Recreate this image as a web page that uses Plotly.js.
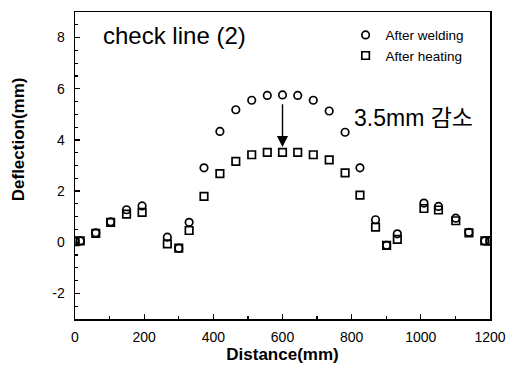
<!DOCTYPE html>
<html>
<head>
<meta charset="utf-8">
<script src="https://cdn.plot.ly/plotly-3.0.1.min.js"></script>
<style>html,body{margin:0;padding:0;background:#fff;}#chart{width:507px;height:366px;}</style>
</head>
<body>
<div id="chart"></div>
<script>
const distance = [0, 15, 60, 103, 149, 194, 267, 300, 330, 373, 419, 465, 511, 556, 600, 644, 689, 735, 781, 824, 869, 901, 932, 1009, 1051, 1101, 1139, 1185, 1200];
const afterWelding = [0.05, 0.05, 0.37, 0.8, 1.27, 1.42, 0.2, -0.23, 0.78, 2.91, 4.33, 5.18, 5.55, 5.74, 5.76, 5.74, 5.55, 5.13, 4.3, 2.91, 0.88, -0.12, 0.33, 1.53, 1.4, 0.94, 0.39, 0.05, 0.05];
const afterHeating = [0.02, 0.05, 0.35, 0.78, 1.1, 1.17, -0.06, -0.23, 0.46, 1.79, 2.68, 3.16, 3.42, 3.51, 3.51, 3.51, 3.42, 3.22, 2.71, 1.84, 0.59, -0.12, 0.11, 1.32, 1.26, 0.84, 0.37, 0.05, 0.05];
const xTicks = [0, 200, 400, 600, 800, 1000, 1200];
const yTicks = [-2, 0, 2, 4, 6, 8];

const font = "Liberation Sans, Arial, sans-serif";
const traces = [
  {x: distance, y: afterWelding, name: "After welding", type: "scatter", mode: "markers",
   marker: {symbol: "circle-open", size: 7.5, color: "#000", line: {width: 1.7, color: "#000"}}},
  {x: distance, y: afterHeating, name: "After heating", type: "scatter", mode: "markers",
   marker: {symbol: "square-open", size: 7.5, color: "#000", line: {width: 1.7, color: "#000"}}}
];
const layout = {
  width: 507, height: 366,
  margin: {l: 75, r: 17, t: 12, b: 47},
  paper_bgcolor: "#fff", plot_bgcolor: "#fff",
  font: {family: font, color: "#000", size: 13},
  showlegend: true,
  legend: {x: 0.652, y: 0.975, xanchor: "left", yanchor: "top", bgcolor: "rgba(0,0,0,0)",
           font: {size: 13.5, family: font}, tracegroupgap: 0, itemwidth: 30},
  xaxis: {range: [0, 1200], tickvals: xTicks, ticktext: xTicks.map(String),
          ticks: "inside", ticklen: 5, tickwidth: 1.3, tickcolor: "#000",
          minor: {dtick: 100, ticks: "inside", ticklen: 3, tickwidth: 1.2, tickcolor: "#000"},
          showline: true, linecolor: "#000", linewidth: 1.5, mirror: true,
          showgrid: false, zeroline: false, ticklabelstandoff: 5,
          tickfont: {size: 14, family: font},
          title: {text: "<b>Distance(mm)</b>", font: {size: 17, family: font}, standoff: 2}},
  yaxis: {range: [-3, 9], tickvals: yTicks, ticktext: yTicks.map(String),
          ticks: "inside", ticklen: 5, tickwidth: 1.3, tickcolor: "#000",
          minor: {dtick: 0.5, ticks: "inside", ticklen: 3, tickwidth: 1.2, tickcolor: "#000"},
          showline: true, linecolor: "#000", linewidth: 1.5, mirror: true,
          showgrid: false, zeroline: false, ticklabelstandoff: 6,
          tickfont: {size: 14, family: font}},
  annotations: [
    {xref: "paper", yref: "paper", x: -0.137, y: 0.586, text: "<b>Deflection(mm)</b>", textangle: -90,
     showarrow: false, font: {size: 17, family: font}, xanchor: "center", yanchor: "middle"},
    {xref: "x", yref: "y", x: 76, y: 8.1, text: "check line (2)", showarrow: false,
     xanchor: "left", yanchor: "middle", font: {size: 24, family: font}},
    {xref: "x", yref: "y", x: 800, y: 4.86, text: "3.5mm 감소", showarrow: false,
     xanchor: "left", yanchor: "middle", font: {size: 23, family: "Liberation Sans, Noto Sans CJK KR, sans-serif"}},
    {xref: "x", yref: "y", x: 600, y: 3.72, ax: 600, ay: 5.45, axref: "x", ayref: "y", text: "",
     showarrow: true, arrowhead: 2, arrowsize: 1.6, arrowwidth: 1.4, arrowcolor: "#000"}
  ]
};
Plotly.newPlot("chart", traces, layout, {displayModeBar: false, staticPlot: true});
</script>
</body>
</html>
